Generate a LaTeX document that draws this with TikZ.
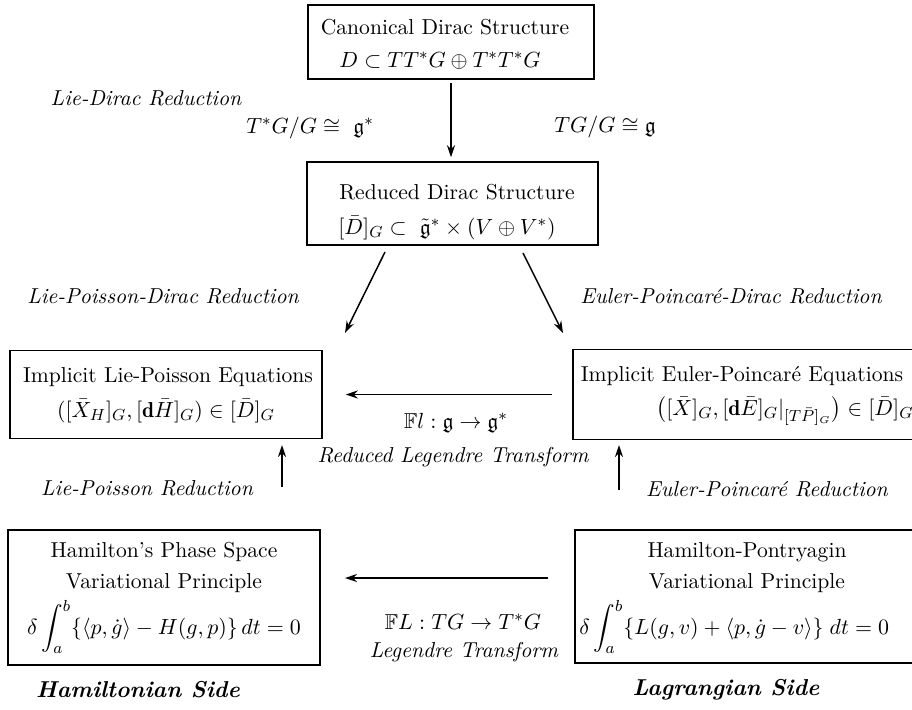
\documentclass[tikz,border=0pt]{standalone}
\usepackage{amsmath,amssymb}
\usepackage{fontspec}
\usetikzlibrary{arrows.meta}
\begin{document}
\begin{tikzpicture}[x=0.5pt,y=-0.5pt,
  box/.style={draw,line width=0.75pt,inner sep=0pt},
  txt/.style={inner sep=0pt,font=\fontsize{10.8}{13}\selectfont},
  lbl/.style={inner sep=0pt,font=\fontsize{10.8}{13}\selectfont\itshape},
  wlbl/.style={inner sep=0pt,font=\fontsize{10.8}{13}\selectfont\itshape\addfontfeature{LetterSpace=4}},
  side/.style={inner sep=0pt,font=\fontsize{11.5}{13}\selectfont\bfseries\itshape},
  arr/.style={line width=0.75pt,-{Stealth[length=6pt,width=4pt]}}
]
\useasboundingbox (0,0) rectangle (912,709);
% boxes
\node[box,minimum width=143pt,minimum height=37pt] (top) at (451,42) {};
\node[box,minimum width=145.5pt,minimum height=41.5pt] (red) at (452.5,203.5) {};
\node[box,minimum width=156pt,minimum height=44pt] (lp) at (166,394.5) {};
\node[box,minimum width=171pt,minimum height=45pt] (ep) at (744,394.5) {};
\node[box,minimum width=156pt,minimum height=67.5pt] (ham) at (164,597.5) {};
\node[box,minimum width=170pt,minimum height=66.5pt] (hp) at (745,596.5) {};
% box texts
\node[txt] (top1) at (445,27) {Canonical Dirac Structure};
\node[txt] (top2) at (440,61) {$D\subset TT^*G\oplus T^*T^*G$};
\node[txt] (red1) at (457,192) {Reduced Dirac Structure};
\node[txt] (red2) at (447,228) {$[\bar D]_G\subset\ \tilde{\mathfrak g}^*\times(V\oplus V^*)$};
\node[txt] (lp1) at (168,377) {Implicit Lie-Poisson Equations};
\node[txt] (lp2) at (166,411) {$([\bar X_H]_G,[\mathbf d\bar H]_G)\in[\bar D]_G$};
\node[txt] (ep1) at (742,376) {Implicit Euler-Poincaré Equations};
\node[txt,anchor=west] (ep2) at (656,411) {$\big([\bar X]_G,[\mathbf d\bar E]_G|_{[T\bar P]_G}\big)\in[\bar D]_G$};
\node[txt] (ham1) at (164,552) {Hamilton's Phase Space};
\node[txt] (ham2) at (164,583) {Variational Principle};
\node[txt] (ham3) at (164,627) {$\displaystyle\delta\int_a^b\{\langle p,\dot g\rangle-H(g,p)\}\,dt=0$};
\node[txt] (hp1) at (747,552) {Hamilton-Pontryagin};
\node[txt] (hp2) at (747,583) {Variational Principle};
\node[txt,anchor=west] (hp3) at (579,627) {$\displaystyle\delta\int_a^b\{L(g,v)+\langle p,\dot g-v\rangle\}\;dt=0$};
% labels
\node[lbl] (ld) at (146,98) {Lie-Dirac Reduction};
\node[txt] (l1) at (310,128) {$T^*G/G\cong\ \mathfrak g^*$};
\node[txt] (l2) at (605,127) {$TG/G\cong\mathfrak g$};
\node[lbl] (lpd) at (163,296) {Lie-Poisson-Dirac Reduction};
\node[lbl] (epd) at (731,296) {Euler-Poincaré-Dirac Reduction};
\node[txt] (fl) at (456,423) {$\mathbb F l:\mathfrak g\to\mathfrak g^*$};
\node[wlbl] (rlt) at (453,457) {Reduced Legendre Transform};
\node[lbl] (lpr) at (147,488) {Lie-Poisson Reduction};
\node[wlbl] (epr) at (767,489) {Euler-Poincaré Reduction};
\node[txt] (fL) at (463,622) {$\mathbb F L: TG\to T^*G$};
\node[lbl] (lt) at (464,652) {Legendre Transform};
\node[side] (hs) at (138,690) {Hamiltonian Side};
\node[side] (ls) at (726,690) {Lagrangian Side};
% arrow endpoints
\coordinate (d1s) at (385,252);
\coordinate (d1e) at (345,333);
\coordinate (d2s) at (523,253);
\coordinate (d2e) at (563,333);
\coordinate (v1s) at (282,487);
\coordinate (v1e) at (282,445);
\coordinate (v2s) at (619,490);
\coordinate (v2e) at (619,445);
\coordinate (h2s) at (548,578);
\coordinate (h2e) at (345,578);
% connectors
\draw[arr,shorten <=1.5pt,shorten >=2pt] (top.south) -- (top.south |- red.north);
\draw[arr] (d1s) -- (d1e);
\draw[arr] (d2s) -- (d2e);
\draw[arr,shorten <=10pt,shorten >=11.5pt] (ep.west) -- (lp.east);
\draw[arr] (v1s) -- (v1e);
\draw[arr] (v2s) -- (v2e);
\draw[arr] (h2s) -- (h2e);
\end{tikzpicture}
\end{document}
